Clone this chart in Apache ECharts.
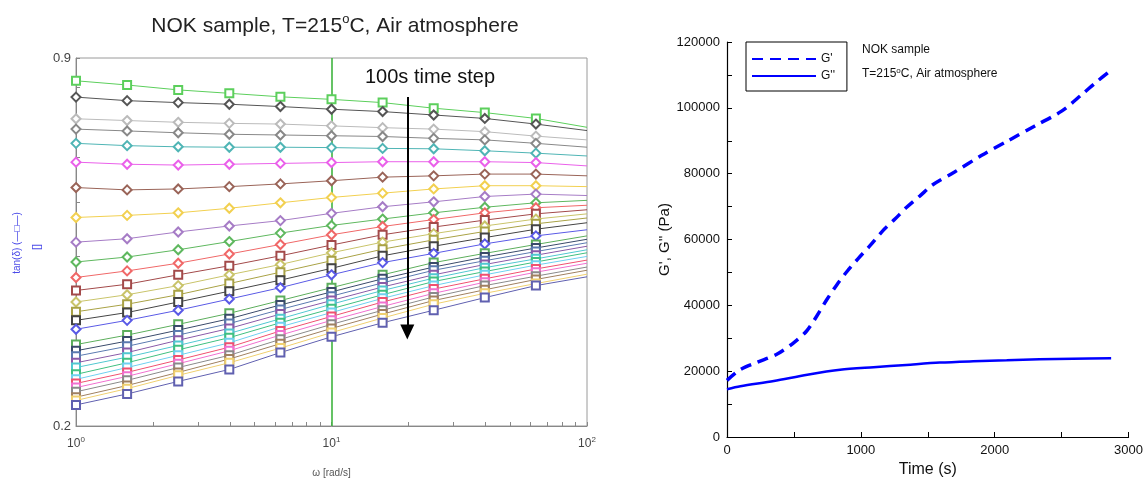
<!DOCTYPE html>
<html><head><meta charset="utf-8">
<script src="https://cdn.jsdelivr.net/npm/echarts@6/dist/echarts.min.js"></script>
<style>html,body{margin:0;padding:0;background:#fff}#c{width:1146px;height:483px}</style>
</head><body><div id="c"></div><script>
// ---- Left panel: tan(delta) vs omega, one curve per 100 s time step ----
const omega = [1, 1.585, 2.512, 3.981, 6.31, 10, 15.85, 25.12, 39.81, 63.1, 100];
const omegaTicks = [1,2,3,4,5,6,7,8,9,10,20,30,40,50,60,70,80,90,100];
const omegaLabels = [1, 10, 100];
const tanTicks = [0.2,0.3,0.4,0.5,0.6,0.7,0.8,0.9];
const tanLabels = [0.2, 0.9];

const tanD00 = [0.820, 0.806, 0.790, 0.779, 0.768, 0.760, 0.750, 0.733, 0.720, 0.703, 0.678];
const tanD01 = [0.767, 0.756, 0.750, 0.745, 0.738, 0.730, 0.723, 0.713, 0.703, 0.687, 0.669];
const tanD02 = [0.702, 0.697, 0.692, 0.689, 0.687, 0.682, 0.677, 0.673, 0.666, 0.654, 0.644];
const tanD03 = [0.673, 0.668, 0.663, 0.659, 0.657, 0.655, 0.653, 0.648, 0.644, 0.635, 0.625];
const tanD04 = [0.635, 0.629, 0.626, 0.625, 0.625, 0.624, 0.622, 0.621, 0.616, 0.610, 0.603];
const tanD05 = [0.588, 0.583, 0.581, 0.583, 0.585, 0.587, 0.589, 0.589, 0.589, 0.587, 0.579];
const tanD06 = [0.530, 0.525, 0.527, 0.532, 0.538, 0.545, 0.553, 0.556, 0.560, 0.560, 0.556];
const tanD07 = [0.469, 0.473, 0.478, 0.487, 0.498, 0.509, 0.518, 0.527, 0.534, 0.534, 0.532];
const tanD08 = [0.424, 0.430, 0.442, 0.453, 0.463, 0.477, 0.490, 0.500, 0.511, 0.516, 0.513];
const tanD09 = [0.391, 0.399, 0.411, 0.425, 0.440, 0.454, 0.466, 0.478, 0.489, 0.498, 0.503];
const tanD10 = [0.367, 0.377, 0.389, 0.404, 0.420, 0.437, 0.452, 0.465, 0.478, 0.488, 0.493];
const tanD11 = [0.348, 0.357, 0.371, 0.385, 0.401, 0.419, 0.437, 0.451, 0.464, 0.476, 0.484];
const tanD12 = [0.332, 0.342, 0.355, 0.371, 0.387, 0.406, 0.424, 0.439, 0.453, 0.466, 0.476];
const tanD13 = [0.319, 0.329, 0.342, 0.358, 0.375, 0.393, 0.412, 0.428, 0.443, 0.457, 0.468];
const tanD14 = [0.308, 0.318, 0.332, 0.347, 0.363, 0.381, 0.401, 0.417, 0.432, 0.447, 0.459];
const tanD15 = [0.297, 0.308, 0.321, 0.336, 0.352, 0.371, 0.390, 0.405, 0.421, 0.435, 0.446];
const tanD16 = [0.279, 0.290, 0.303, 0.317, 0.334, 0.352, 0.371, 0.390, 0.405, 0.420, 0.435];
const tanD17 = [0.272, 0.283, 0.296, 0.310, 0.328, 0.346, 0.365, 0.383, 0.399, 0.414, 0.429];
const tanD18 = [0.266, 0.277, 0.290, 0.304, 0.322, 0.340, 0.359, 0.378, 0.393, 0.408, 0.423];
const tanD19 = [0.259, 0.270, 0.284, 0.298, 0.316, 0.334, 0.353, 0.371, 0.387, 0.402, 0.417];
const tanD20 = [0.254, 0.265, 0.278, 0.292, 0.310, 0.329, 0.348, 0.366, 0.382, 0.396, 0.411];
const tanD21 = [0.247, 0.259, 0.273, 0.287, 0.305, 0.323, 0.342, 0.361, 0.376, 0.391, 0.406];
const tanD22 = [0.242, 0.254, 0.267, 0.281, 0.300, 0.318, 0.337, 0.355, 0.371, 0.386, 0.400];
const tanD23 = [0.238, 0.249, 0.262, 0.276, 0.295, 0.313, 0.332, 0.350, 0.365, 0.380, 0.394];
const tanD24 = [0.234, 0.245, 0.258, 0.272, 0.290, 0.308, 0.326, 0.344, 0.360, 0.375, 0.389];
const tanD25 = [0.230, 0.241, 0.254, 0.267, 0.285, 0.303, 0.321, 0.339, 0.355, 0.369, 0.383];
const tanD26 = [0.225, 0.236, 0.249, 0.263, 0.280, 0.298, 0.316, 0.334, 0.349, 0.364, 0.378];
const tanD27 = [0.222, 0.233, 0.246, 0.259, 0.275, 0.293, 0.311, 0.329, 0.344, 0.358, 0.372];
const tanD28 = [0.218, 0.228, 0.240, 0.252, 0.270, 0.288, 0.305, 0.321, 0.338, 0.355, 0.368];

const tanCurves = [tanD00,tanD01,tanD02,tanD03,tanD04,tanD05,tanD06,tanD07,tanD08,tanD09,
  tanD10,tanD11,tanD12,tanD13,tanD14,tanD15,tanD16,tanD17,tanD18,tanD19,
  tanD20,tanD21,tanD22,tanD23,tanD24,tanD25,tanD26,tanD27,tanD28];

// styles (kept separate from data)
const curveColors = ['#5ccf5c','#555555','#bbbbbb','#888888','#4fb5b5','#ea60ea','#9a6458','#f2d050',
  '#a67cc6','#5fb85f','#f06868','#a34a4a','#c9c46a','#a9a245','#444444','#5a5ae6',
  '#5cae5c','#3a4a6a','#5a7ab0','#8a5aa8','#50c8d0','#40c080','#70d0f0','#f05070',
  '#f070d0','#8a8a8a','#a08060','#f0d070','#6060b0'];
const curveSymbols = ['emptyRect','emptyDiamond','emptyDiamond','emptyDiamond','emptyDiamond','emptyDiamond',
  'emptyDiamond','emptyDiamond','emptyDiamond','emptyDiamond','emptyDiamond','emptyRect','emptyDiamond',
  'emptyRect','emptyRect','emptyDiamond','emptyRect','emptyRect','emptyRect','emptyRect','emptyRect',
  'emptyRect','emptyRect','emptyRect','emptyRect','emptyRect','emptyRect','emptyRect','emptyRect'];

// ---- Right panel: G', G'' vs time ----
const timeGp = [0, 100, 225, 375, 500, 595, 670, 745, 820, 895, 980, 1070, 1165, 1255, 1340, 1440, 1540, 1700, 1900, 2100, 2300, 2500, 2650, 2750, 2870];
const gPrime = [17200, 20500, 22700, 25200, 28700, 32200, 36700, 41700, 46200, 50200, 54200, 58200, 62700, 66200, 69700, 73200, 76700, 80500, 85500, 90000, 94500, 99000, 104000, 107500, 111500];
const timeGpp = [0, 100, 350, 600, 845, 1095, 1340, 1590, 1840, 2090, 2335, 2585, 2870];
const gDoublePrime = [14500, 15400, 17000, 18900, 20400, 21200, 21900, 22600, 23000, 23300, 23600, 23800, 23900];

const FONT = 'Liberation Sans, Arial, sans-serif';
const chart = echarts.init(document.getElementById('c'), null, {renderer: 'canvas'});

const leftSeries = tanCurves.map((arr, k) => ({
  type: 'line',
  name: 't' + (k * 100),
  xAxisIndex: 0, yAxisIndex: 0,
  data: omega.map((w, i) => [w, arr[i]]),
  symbol: (v, p) => p.dataIndex === omega.length - 1 ? 'none' : curveSymbols[k],
  symbolSize: curveSymbols[k] === 'emptyRect' ? 8 : 9,
  lineStyle: {color: curveColors[k], width: 1},
  itemStyle: {color: curveColors[k], borderWidth: 1},
  emphasis: {disabled: true},
  silent: true,
  z: 3
}));

// time-step arrow
leftSeries[1].markLine = {
  silent: true, animation: false,
  symbol: ['none', 'triangle'], symbolSize: [14, 15],
  label: {show: false},
  data: [[{coord: [19.8, 0.767]}, {coord: [19.8, 0.2937]}]],
  lineStyle: {color: '#000', width: 2, type: 'solid'},
  itemStyle: {color: '#000'}
};

const plainNum = v => String(v);

const option = {
  animation: false,
  textStyle: {fontFamily: FONT},
  title: {
    text: '{a|NOK sample, T=215}{s|o}{a|C, Air atmosphere}',
    left: 330, top: 8, textAlign: 'center',
    textStyle: {fontWeight: 'normal', rich: {
      a: {fontSize: 21, color: '#222', fontFamily: FONT, fontWeight: 'normal', lineHeight: 26},
      s: {fontSize: 13, color: '#222', fontFamily: FONT, fontWeight: 'normal', lineHeight: 13, verticalAlign: 'top'}
    }}
  },
  legend: {
    data: ["G'", "G''"],
    left: 746, top: 42, orient: 'vertical',
    borderColor: '#000', borderWidth: 1, borderRadius: 0,
    padding: [11, 12, 9, 5], itemGap: 5,
    itemWidth: 64, itemHeight: 12,
    itemStyle: {opacity: 0},
    textStyle: {fontSize: 12, color: '#111', fontFamily: FONT},
    selectedMode: false
  },
  grid: [
    {left: 76, top: 58, width: 511, height: 368, show: true, borderColor: '#9a9a9a', borderWidth: 1, backgroundColor: 'transparent'},
    {left: 727, top: 42, width: 402, height: 400}
  ],
  xAxis: [
    {
      type: 'log', logBase: 10, min: 1, max: 100, gridIndex: 0,
      axisLine: {lineStyle: {color: '#888', width: 1}},
      axisTick: {inside: true, length: 4, customValues: omegaTicks, lineStyle: {color: '#888'}},
      splitLine: {show: false},
      axisLabel: {
        customValues: omegaLabels, color: '#444', fontSize: 12, margin: 10, lineHeight: 16,
        formatter: v => '10{s|' + Math.round(Math.log10(v)) + '}',
        rich: {s: {fontSize: 8, color: '#444', lineHeight: 9, verticalAlign: 'top'}}
      },
      name: 'ω [rad/s]', nameLocation: 'middle', nameGap: 42,
      nameTextStyle: {fontSize: 10, color: '#555'}
    },
    {
      type: 'value', min: 0, max: 3000, interval: 1000, gridIndex: 1,
      axisLine: {lineStyle: {color: '#000', width: 1.2}},
      axisTick: {inside: true, length: 5, lineStyle: {color: '#000'}},
      minorTick: {show: true, splitNumber: 2, length: 5, lineStyle: {color: '#000'}},
      splitLine: {show: false},
      axisLabel: {color: '#111', fontSize: 13, margin: 7, formatter: plainNum},
      name: 'Time (s)', nameLocation: 'middle', nameGap: 25,
      nameTextStyle: {fontSize: 16, color: '#111'}
    },
    {
      // helper axis on the left grid: only its decade grid line at omega = 10 (green)
      type: 'log', logBase: 10, min: 1, max: 100, gridIndex: 0, position: 'top',
      axisLine: {show: false}, axisTick: {show: false}, axisLabel: {show: false},
      splitLine: {show: true, showMinLine: false, showMaxLine: false,
        lineStyle: {color: '#3fb43f', width: 1.6, type: 'solid'}},
      z: 1
    }
  ],
  yAxis: [
    {
      type: 'log', logBase: 10, min: 0.2, max: 0.9, gridIndex: 0,
      axisLine: {lineStyle: {color: '#888', width: 1}},
      axisTick: {inside: true, length: 4, customValues: tanTicks, lineStyle: {color: '#888'}},
      splitLine: {show: false},
      axisLabel: {customValues: tanLabels, color: '#444', fontSize: 13, margin: 5,
        formatter: v => Number(v).toFixed(1)}
    },
    {
      type: 'value', min: 0, max: 120000, interval: 20000, gridIndex: 1,
      axisLine: {lineStyle: {color: '#000', width: 1.2}},
      axisTick: {inside: true, length: 5, lineStyle: {color: '#000'}},
      minorTick: {show: true, splitNumber: 2, length: 5, lineStyle: {color: '#000'}},
      splitLine: {show: false},
      axisLabel: {color: '#111', fontSize: 13, margin: 7, formatter: plainNum},
      name: "G', G'' (Pa)", nameLocation: 'middle', nameGap: 53,
      nameTextStyle: {fontSize: 15, color: '#111'}
    }
  ],
  graphic: [
    {type: 'text', x: 365, y: 77, style: {text: '100s time step', fontSize: 20, fill: '#111', fontFamily: FONT, verticalAlign: 'middle'}},
    {type: 'text', x: 17, y: 243, rotation: Math.PI / 2, style: {text: 'tan(δ) (—□—)', fontSize: 10, fill: '#4a4ae8', fontFamily: FONT, align: 'center', verticalAlign: 'middle'}},
    {type: 'text', x: 37, y: 247, rotation: Math.PI / 2, style: {text: '[]', fontSize: 11, fill: '#4a4ae8', fontFamily: FONT, align: 'center', verticalAlign: 'middle'}},
    {type: 'text', x: 862, y: 50, style: {text: 'NOK sample', fontSize: 12, fill: '#111', fontFamily: FONT, verticalAlign: 'middle'}},
    {type: 'text', x: 862, y: 74, style: {
      text: '{a|T=215}{s|o}{a|C, Air atmosphere}', verticalAlign: 'middle',
      rich: {a: {fontSize: 12, fill: '#111', fontFamily: FONT, lineHeight: 15},
             s: {fontSize: 8, fill: '#111', fontFamily: FONT, lineHeight: 8, verticalAlign: 'top'}}
    }}
  ],
  series: leftSeries.concat([
    {
      type: 'line', name: "G'", xAxisIndex: 1, yAxisIndex: 1,
      data: timeGp.map((t, i) => [t, gPrime[i]]),
      symbol: 'none', smooth: 0.3,
      lineStyle: {color: '#0000ff', width: 3.5, type: [11, 7], cap: 'butt'},
      itemStyle: {color: '#0000ff'}
    },
    {
      type: 'line', name: "G''", xAxisIndex: 1, yAxisIndex: 1,
      data: timeGpp.map((t, i) => [t, gDoublePrime[i]]),
      symbol: 'none', smooth: 0.3,
      lineStyle: {color: '#0000ff', width: 2.5},
      itemStyle: {color: '#0000ff'}
    }
  ])
};
chart.setOption(option);
</script></body></html>
